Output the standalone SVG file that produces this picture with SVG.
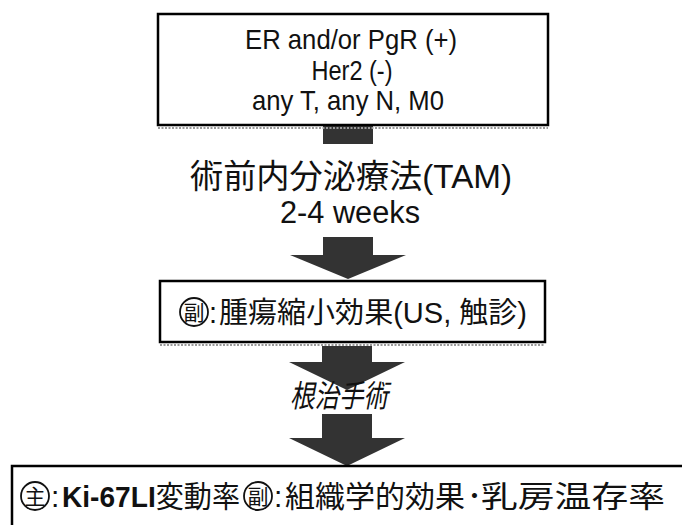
<svg xmlns="http://www.w3.org/2000/svg" width="682" height="525" viewBox="0 0 682 525">
<style>
.box{fill:#fff;stroke:#000;stroke-width:2.5}
.shadow{stroke:#9a9a9a;stroke-width:2;stroke-dasharray:2 1.5;fill:none}
.t{font-family:'Liberation Sans','Noto Sans CJK JP',sans-serif;fill:#111}
.arrow{fill:#333}
.circ{fill:none;stroke:#111;stroke-width:1.8}
</style>
<rect width="682" height="525" fill="#fff"/>
<g id="connectors">
  <rect class="arrow" x="323" y="126" width="50" height="18"/>
  <path class="arrow" d="M323 237 H373 V255 H406 L348 279 L290 255 H323 Z"/>
  <path class="arrow" d="M322 346 H372 V362 H405 L347 390 L289 362 H322 Z"/>
  <path class="arrow" d="M322 414 H372 V438 H405 L347 466 L289 438 H322 Z"/>
</g>
<g id="box1">
  <rect class="box" x="158" y="14" width="390" height="111"/>
  <line class="shadow" x1="158" y1="128" x2="548" y2="128"/>
  <text class="t" x="351" y="49" font-size="28" text-anchor="middle" textLength="212" lengthAdjust="spacingAndGlyphs">ER and/or PgR (+)</text>
  <text class="t" x="352" y="80" font-size="28" text-anchor="middle" textLength="81" lengthAdjust="spacingAndGlyphs">Her2 (-)</text>
  <text class="t" x="348" y="110" font-size="28" text-anchor="middle" textLength="192" lengthAdjust="spacingAndGlyphs">any T, any N, M0</text>
</g>
<g id="treatment">
  <text class="t" x="351" y="188" font-size="33" text-anchor="middle" textLength="322" lengthAdjust="spacingAndGlyphs">術前内分泌療法(TAM)</text>
  <text class="t" x="350" y="223" font-size="31" text-anchor="middle" textLength="140" lengthAdjust="spacingAndGlyphs">2-4 weeks</text>
</g>
<g id="box2">
  <rect class="box" x="160" y="281" width="385" height="61"/>
  <line class="shadow" x1="160" y1="345" x2="545" y2="345"/>
  <circle class="circ" cx="194" cy="312" r="14"/>
  <text class="t" x="194" y="320" font-size="21" text-anchor="middle">副</text>
  <text class="t" x="209" y="323" font-size="29">:</text>
  <text class="t" x="219" y="323" font-size="29" textLength="308" lengthAdjust="spacingAndGlyphs">腫瘍縮小効果(US,  触診)</text>
</g>
<g id="surgery">
  <text class="t" x="290" y="407" font-size="31" font-style="italic" textLength="98" lengthAdjust="spacingAndGlyphs">根治手術</text>
</g>
<g id="box3">
  <rect class="box" x="12" y="466" width="700" height="80"/>
  <circle class="circ" cx="35" cy="496" r="14"/>
  <text class="t" x="35" y="504" font-size="21" text-anchor="middle">主</text>
  <text class="t" x="51" y="507" font-size="30">:</text>
  <text class="t" x="62" y="507" font-size="30" textLength="178" lengthAdjust="spacingAndGlyphs"><tspan font-weight="bold">Ki-67LI</tspan>変動率</text>
  <circle class="circ" cx="258" cy="496" r="14"/>
  <text class="t" x="258" y="504" font-size="21" text-anchor="middle">副</text>
  <text class="t" x="274" y="507" font-size="30">:</text>
  <text class="t" x="285" y="507" font-size="30" textLength="180" lengthAdjust="spacingAndGlyphs">組織学的効果</text>
  <text class="t" x="467" y="507" font-size="30">･</text>
  <text class="t" x="481" y="507" font-size="30" textLength="184" lengthAdjust="spacingAndGlyphs">乳房温存率</text>
</g>
</svg>
